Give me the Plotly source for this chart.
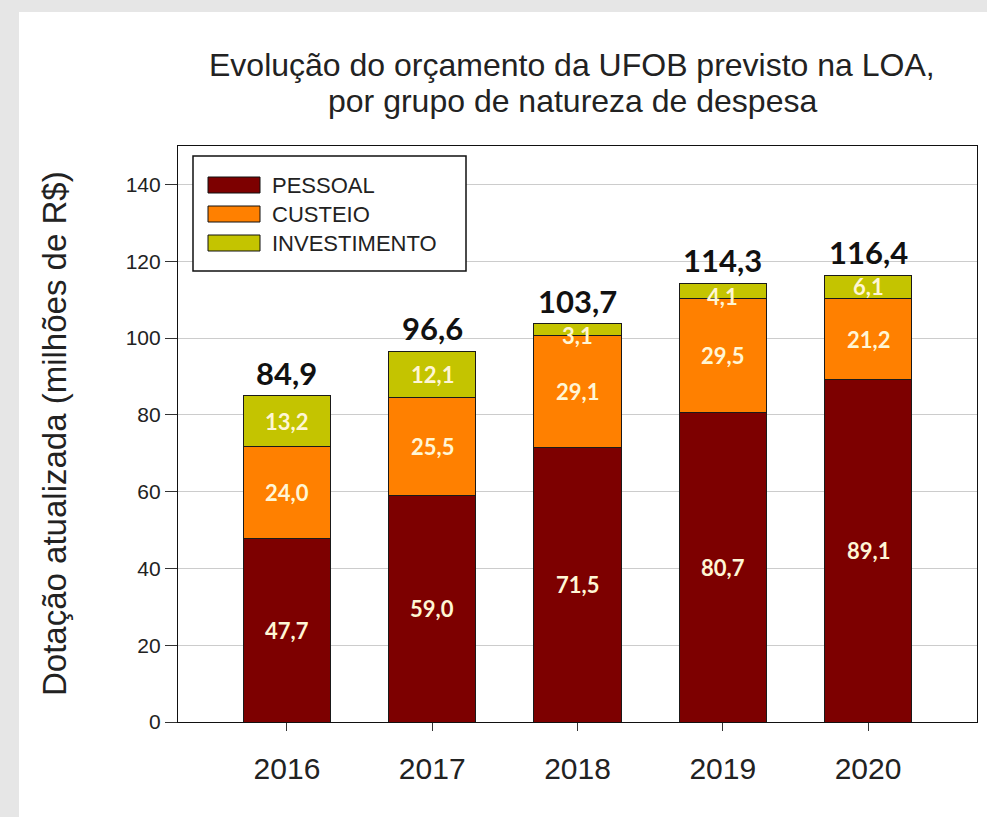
import plotly.graph_objects as go

# dados (milhões de R$)
anos = ["2016", "2017", "2018", "2019", "2020"]
pessoal = [47.7, 59.0, 71.5, 80.7, 89.1]
custeio = [24.0, 25.5, 29.1, 29.5, 21.2]
investimento = [13.2, 12.1, 3.1, 4.1, 6.1]
grupos = ["PESSOAL", "CUSTEIO", "INVESTIMENTO"]
cores = ["#7D0000", "#FF8000", "#C4C400"]
titulo = ["Evolução do orçamento da UFOB previsto na LOA,",
          "por grupo de natureza de despesa"]

series = [pessoal, custeio, investimento]
totais = [round(a + b + c, 1) for a, b, c in zip(pessoal, custeio, investimento)]
pos = list(range(len(anos)))

W, H = 987, 817
L, R, T, B = 178, 977, 146, 722  # plot area in pixels


def fx(px):
    return (px - L) / (R - L)


def fy(py):
    return (B - py) / (B - T)


def br(v):
    return f"{v:.1f}".replace(".", ",")


fig = go.Figure()
annotations = []

base = [0.0] * len(anos)
for nome, vals, cor in zip(grupos, series, cores):
    fig.add_trace(go.Bar(
        x=pos, y=vals, name=nome, width=0.6,
        marker=dict(color=cor, line=dict(color="#1a1a1a", width=1)),
    ))
    # rótulos internos no meio de cada segmento (os muito baixos descem um pouco)
    for i, b, v in zip(pos, base, vals):
        annotations.append(dict(
            x=i, y=b + v / 2, xref="x", yref="y", showarrow=False,
            text=br(v), yanchor="middle", yshift=-6 if v < 5 else 0,
            font=dict(family="Lato", size=22, color="#FFF6D5", weight="bold"),
        ))
    base = [b + v for b, v in zip(base, vals)]

# totais acima das barras
for i, t in zip(pos, totais):
    annotations.append(dict(
        x=i, y=t, xref="x", yref="y", showarrow=False,
        text=br(t), yanchor="bottom", yshift=2,
        font=dict(family="Lato", size=31, color="#111111", weight="bold"),
    ))

shapes = [
    # painel branco sobre fundo cinza
    dict(type="rect", xref="paper", yref="paper", layer="below",
         x0=fx(19), x1=fx(990), y0=fy(820), y1=fy(12),
         fillcolor="white", line=dict(width=0)),
    # caixa da legenda
    dict(type="rect", xref="paper", yref="paper", layer="above",
         x0=fx(193), x1=fx(466), y0=fy(271), y1=fy(156),
         fillcolor="white", line=dict(color="#111111", width=1.5)),
]
linhas = [185, 214, 243]
for nome, cor, yc in zip(grupos, cores, linhas):
    shapes.append(dict(type="rect", xref="paper", yref="paper", layer="above",
                       x0=fx(208), x1=fx(260), y0=fy(yc + 8), y1=fy(yc - 8),
                       fillcolor=cor, line=dict(color="#111111", width=1)))
    annotations.append(dict(xref="paper", yref="paper", x=fx(270), y=fy(yc),
                            xanchor="left", yanchor="middle", showarrow=False,
                            text=nome,
                            font=dict(family="Liberation Sans", size=22, color="#222222")))

# título em duas linhas
for linha, yc in zip(titulo, [65, 101]):
    annotations.append(dict(xref="paper", yref="paper", x=fx(572), y=fy(yc),
                            xanchor="center", yanchor="middle", showarrow=False,
                            text=linha,
                            font=dict(family="Liberation Sans", size=32, color="#222222")))

annotations.append(dict(xref="paper", yref="paper", x=fx(54), y=0.5,
                        xanchor="center", yanchor="middle", showarrow=False,
                        textangle=-90, text="Dotação atualizada (milhões de R$)",
                        font=dict(family="Liberation Sans", size=33, color="#222222")))

fig.update_layout(
    width=W, height=H,
    barmode="stack",
    showlegend=False,
    paper_bgcolor="#e6e6e6",
    plot_bgcolor="white",
    margin=dict(l=L, r=W - R, t=T, b=H - B, pad=0),
    shapes=shapes,
    annotations=annotations,
)

fig.update_xaxes(
    range=[-0.75, 4.75], tickvals=pos, ticktext=anos,
    showgrid=False, zeroline=False,
    showline=True, linecolor="#111111", linewidth=1.2, mirror=True,
    ticks="outside", ticklen=8, tickcolor="#333333",
    ticklabelstandoff=12,
    tickfont=dict(family="Liberation Sans", size=30, color="#222222"),
)
fig.update_yaxes(
    range=[0, 150], tickvals=list(range(0, 141, 20)),
    showgrid=True, gridcolor="#cccccc", gridwidth=1, zeroline=False,
    showline=True, linecolor="#111111", linewidth=1.2, mirror=True,
    ticks="outside", ticklen=12, tickcolor="#333333",
    tickfont=dict(family="Liberation Sans", size=21, color="#222222"),
)

# sem margem na página, para a figura ocupar a janela toda
fig.write_html("out.html", config={"displayModeBar": False},
               post_script="document.body.style.margin='0';")
